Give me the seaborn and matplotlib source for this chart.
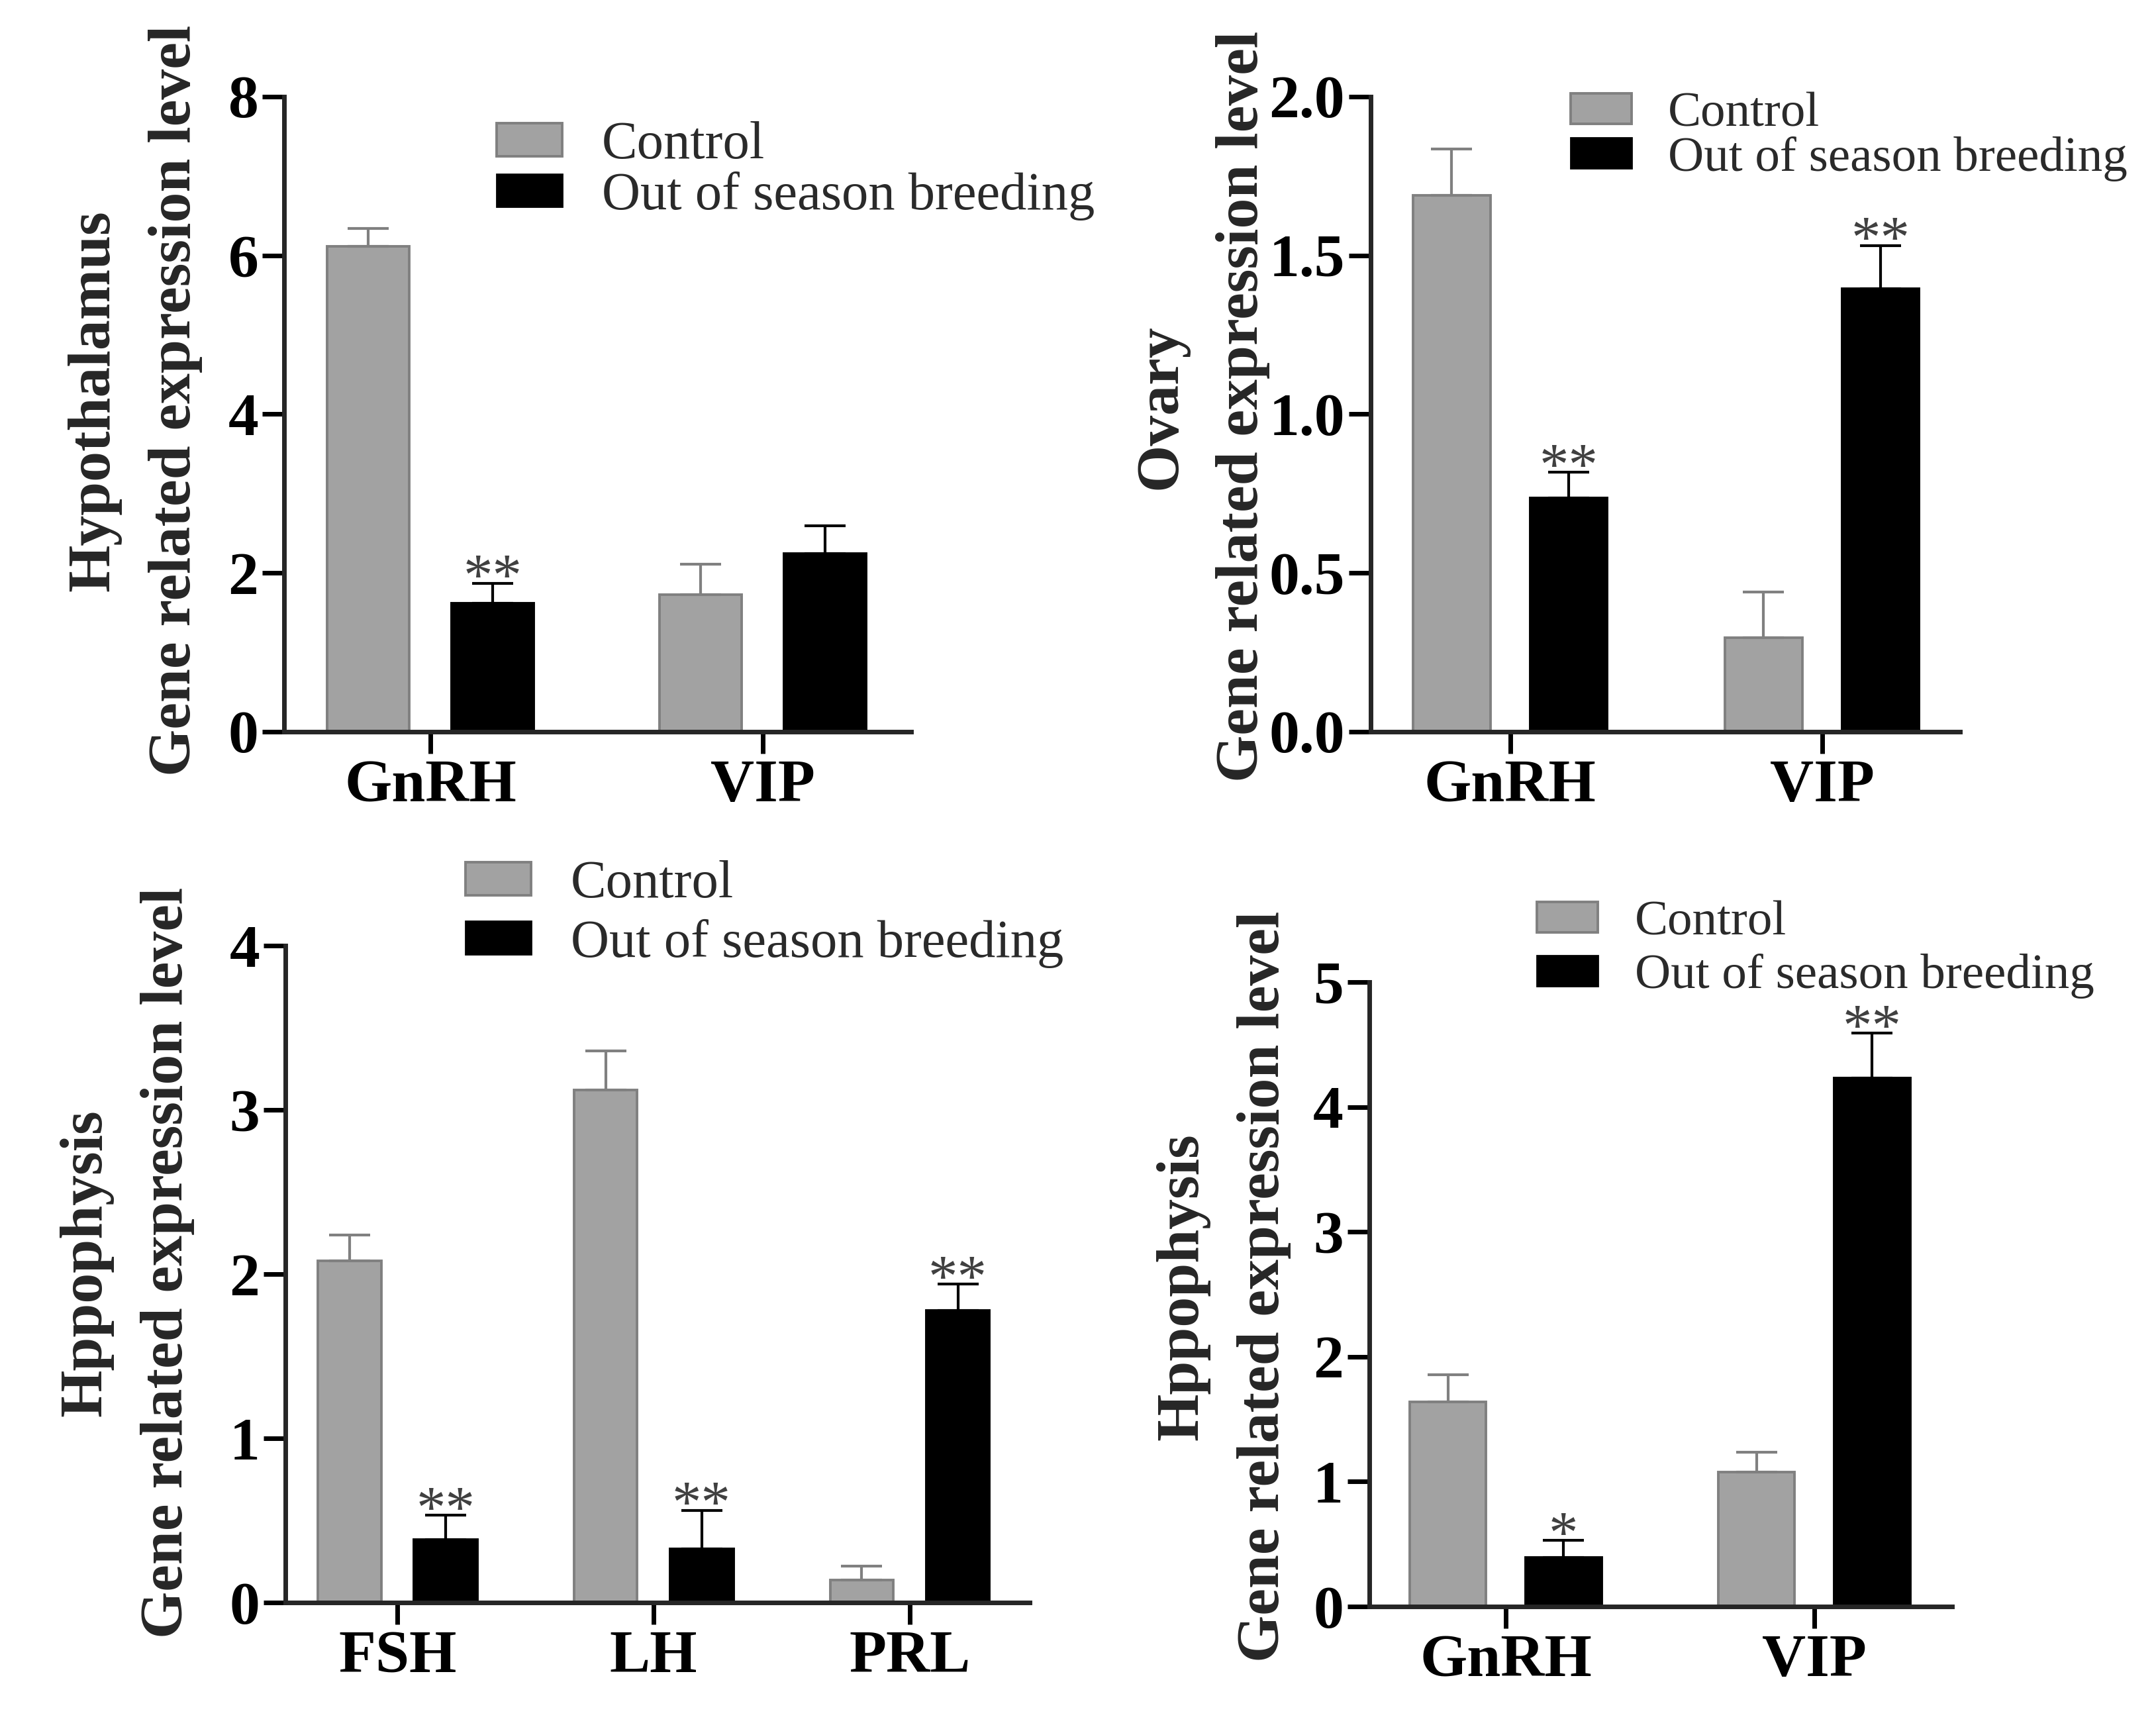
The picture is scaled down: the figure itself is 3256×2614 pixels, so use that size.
import numpy as np
import pandas as pd
import matplotlib.pyplot as plt
import matplotlib.patches as mpatches
from matplotlib.ticker import FormatStrFormatter
import seaborn as sns

groups = ['Control', 'Out of season breeding']

# Hypothalamus
hyp_genes = ['GnRH', 'VIP']
hyp_control = [6.11, 1.73]
hyp_control_err = [0.23, 0.38]
hyp_osb = [1.62, 2.24]
hyp_osb_err = [0.25, 0.35]
hyp_stars = ['**', '']

# Ovary
ova_genes = ['GnRH', 'VIP']
ova_control = [1.69, 0.295]
ova_control_err = [0.145, 0.145]
ova_osb = [0.737, 1.395]
ova_osb_err = [0.08, 0.136]
ova_stars = ['**', '**']

# Hypophysis, FSH/LH/PRL
hyp3_genes = ['FSH', 'LH', 'PRL']
hyp3_control = [2.08, 3.12, 0.136]
hyp3_control_err = [0.16, 0.24, 0.085]
hyp3_osb = [0.384, 0.328, 1.78]
hyp3_osb_err = [0.148, 0.234, 0.16]
hyp3_stars = ['**', '**', '**']

# Hypophysis, GnRH/VIP
hyp2_genes = ['GnRH', 'VIP']
hyp2_control = [1.637, 1.075]
hyp2_control_err = [0.22, 0.16]
hyp2_osb = [0.39, 4.23]
hyp2_osb_err = [0.14, 0.36]
hyp2_stars = ['*', '**']

sns.set_style('ticks')
plt.rcParams['font.family'] = ['Liberation Serif', 'DejaVu Serif']
plt.rcParams['font.weight'] = 'bold'

ctrl_color = '#a2a2a2'
ctrl_edge = '#808080'

fig = plt.figure(figsize=(16.28, 13.07), dpi=200)


def panel(rect, genes, ctrl, ctrl_err, osb, osb_err, stars, ylabel, ymax, ystep,
          xlim, label_xy, leg_xy, leg_space, leg_size, fmt='%d'):
    ax = fig.add_axes(rect)
    df = pd.DataFrame({'Gene': genes * 2,
                       'Value': ctrl + osb,
                       'Group': [groups[0]] * len(genes) + [groups[1]] * len(genes)})
    sns.barplot(data=df, x='Gene', y='Value', hue='Group', hue_order=groups,
                palette=[ctrl_color, '#000000'], width=0.75, gap=0.34,
                errorbar=None, legend=False, linewidth=1.4, ax=ax)
    for cont, errs, ecol in zip(ax.containers, [ctrl_err, osb_err], [ctrl_edge, 'black']):
        for b in cont:
            b.set_edgecolor(ecol)
        xs = [b.get_x() + b.get_width() / 2 for b in cont]
        hs = [b.get_height() for b in cont]
        ax.errorbar(xs, hs, yerr=[np.zeros(len(errs)), errs], fmt='none', ecolor=ecol,
                    elinewidth=1.5, capsize=11, capthick=1.5)
    # significance marks
    for b, e, s in zip(ax.containers[1], osb_err, stars):
        if s:
            ax.annotate(s, xy=(b.get_x() + b.get_width() / 2, b.get_height() + e),
                        xytext=(0, -6), textcoords='offset points', ha='center',
                        va='baseline', fontsize=32, fontweight='normal', color='#404040')

    ax.set_ylim(0, ymax)
    ax.set_yticks(np.arange(0, ymax + ystep / 2, ystep))
    ax.yaxis.set_major_formatter(FormatStrFormatter(fmt))
    ax.set_xlim(*xlim)
    ax.set_xlabel('')
    ax.set_ylabel(ylabel, fontsize=33, fontweight='bold', linespacing=1.65)
    ax.yaxis.set_label_coords(*label_xy)
    sns.despine(ax=ax)
    for sp in ['left', 'bottom']:
        ax.spines[sp].set_linewidth(2.5)
    ax.tick_params(width=2.5, length=12, labelsize=33, pad=2, colors='black')
    ax.tick_params(axis='x', pad=3)

    handles = [mpatches.Patch(facecolor=ctrl_color, edgecolor=ctrl_edge, linewidth=1.4, label=groups[0]),
               mpatches.Patch(facecolor='black', edgecolor='black', label=groups[1])]
    ax.legend(handles=handles, loc='center left', bbox_to_anchor=leg_xy, frameon=False,
              borderpad=0, borderaxespad=0, handlelength=1.23, handleheight=0.57,
              handletextpad=0.74, labelspacing=leg_space, labelcolor='#2a2a2a',
              prop={'family': 'Liberation Serif', 'weight': 'normal', 'size': leg_size})
    return ax


panel([0.1318, 0.5773, 0.2908, 0.3669], hyp_genes, hyp_control, hyp_control_err,
      hyp_osb, hyp_osb_err, hyp_stars, 'Hypothalamus\nGene related expression level',
      8, 2, (-0.44, 1.446), (-0.130, 0.521), (0.339, 0.883), 0.03, 29)

panel([0.6357, 0.5773, 0.2733, 0.3669], ova_genes, ova_control, ova_control_err,
      ova_osb, ova_osb_err, ova_stars, 'Ovary\nGene related expression level',
      2.0, 0.5, (-0.448, 1.442), (-0.171, 0.512), (0.339, 0.937), -0.01, 27, fmt='%.1f')

panel([0.1324, 0.0742, 0.3452, 0.3795], hyp3_genes, hyp3_control, hyp3_control_err,
      hyp3_osb, hyp3_osb_err, hyp3_stars, 'Hppophysis\nGene related expression level',
      4, 1, (-0.437, 2.468), (-0.122, 0.517), (0.242, 1.048), 0.19, 29)

panel([0.6351, 0.0719, 0.2703, 0.3608], hyp2_genes, hyp2_control, hyp2_control_err,
      hyp2_osb, hyp2_osb_err, hyp2_stars, 'Hppophysis\nGene related expression level',
      5, 1, (-0.442, 1.446), (-0.134, 0.512), (0.2875, 1.0515), 0.17, 27)

fig.savefig('out.png', dpi=200)
